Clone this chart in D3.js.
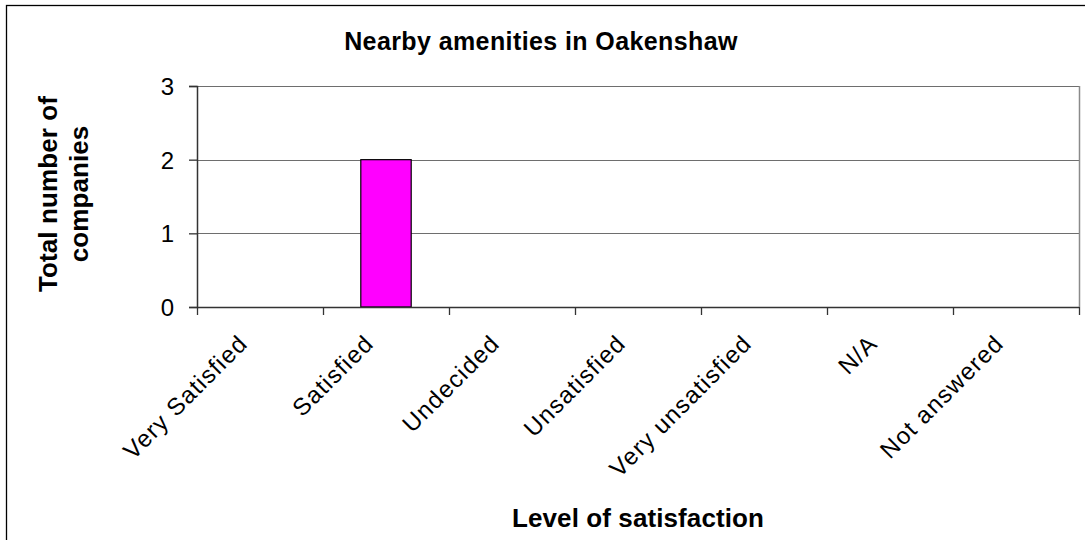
<!DOCTYPE html>
<html>
<head>
<meta charset="utf-8">
<script src="https://cdn.jsdelivr.net/npm/d3@7"></script>
<style>
  html, body { margin: 0; padding: 0; background: #fff; }
  svg { display: block; font-family: "Liberation Sans", Arial, sans-serif; }
</style>
</head>
<body>
<svg id="chart" width="1085" height="540"></svg>
<script>
const categories = ["Very Satisfied", "Satisfied", "Undecided", "Unsatisfied", "Very unsatisfied", "N/A", "Not answered"];
const values = [0, 2, 0, 0, 0, 0, 0];
const yTicks = [0, 1, 2, 3];
const chartTitle = "Nearby amenities in Oakenshaw";
const xTitle = "Level of satisfaction";
const yTitleLines = ["Total number of", "companies"];

const svg = d3.select("#chart");
const W = 1085, H = 540;
const plot = { left: 197, right: 1079, top: 86, bottom: 307 };

// outer frame (extends beyond right/bottom edges)
svg.append("rect").attr("x", 6.5).attr("y", 5.5).attr("width", W + 20).attr("height", H + 20)
  .attr("fill", "#fff").attr("stroke", "#000").attr("stroke-width", 1.3);

const x = d3.scaleBand().domain(categories).range([plot.left, plot.right]).paddingInner(0).paddingOuter(0);
const y = d3.scaleLinear().domain([0, 3]).range([plot.bottom, plot.top]);

// gridlines
svg.append("g").selectAll("line").data(yTicks.filter(d => d > 0)).join("line")
  .attr("x1", plot.left).attr("x2", plot.right)
  .attr("y1", d => Math.round(y(d)) + 0.5).attr("y2", d => Math.round(y(d)) + 0.5)
  .attr("stroke", "#6e6e6e").attr("stroke-width", 1.2);

// right border of plot
svg.append("line").attr("x1", plot.right + 0.5).attr("x2", plot.right + 0.5)
  .attr("y1", plot.top).attr("y2", plot.bottom)
  .attr("stroke", "#8a8a8a").attr("stroke-width", 1.5);

// bars
const barW = x.bandwidth() * 0.4;
svg.append("g").selectAll("rect").data(categories.map((c, i) => ({ c, v: values[i] })).filter(d => d.v > 0)).join("rect")
  .attr("x", d => x(d.c) + (x.bandwidth() - barW) / 2)
  .attr("y", d => y(d.v))
  .attr("width", barW)
  .attr("height", d => y(0) - y(d.v))
  .attr("fill", "#ff00ff").attr("stroke", "#000").attr("stroke-width", 1.2);

// y axis
const yAxis = svg.append("g").attr("transform", `translate(${plot.left},0)`)
  .call(d3.axisLeft(y).tickValues(yTicks).tickFormat(d3.format("d")).tickSize(8).tickPadding(15));
yAxis.select(".domain").attr("stroke", "#333").attr("stroke-width", 1.5);
yAxis.selectAll(".tick line").attr("stroke", "#333").attr("stroke-width", 1.3);
yAxis.selectAll(".tick text").attr("font-size", 24).attr("fill", "#000")
  .attr("font-family", "Liberation Sans, Arial, sans-serif").attr("dy", "0.36em");

// x axis with ticks at band boundaries
const xAxisG = svg.append("g");
xAxisG.append("line").attr("x1", plot.left).attr("x2", plot.right)
  .attr("y1", plot.bottom + 0.5).attr("y2", plot.bottom + 0.5)
  .attr("stroke", "#333").attr("stroke-width", 1.6);
const boundaries = categories.map(c => x(c)).concat([plot.right]);
xAxisG.selectAll("line.tk").data(boundaries).join("line").attr("class", "tk")
  .attr("x1", d => Math.round(d) + 0.5).attr("x2", d => Math.round(d) + 0.5)
  .attr("y1", plot.bottom).attr("y2", plot.bottom + 8)
  .attr("stroke", "#333").attr("stroke-width", 1.3);

// x tick labels rotated -45
xAxisG.selectAll("text").data(categories).join("text")
  .attr("transform", d => `translate(${x(d) + x.bandwidth() / 2 - 11},${plot.bottom + 38}) rotate(-45)`)
  .attr("text-anchor", "end")
  .attr("font-size", 24).attr("letter-spacing", 1.2).attr("fill", "#000")
  .text(d => d);

// title
svg.append("text").attr("x", 541).attr("y", 50).attr("text-anchor", "middle")
  .attr("font-size", 25).attr("font-weight", "bold").attr("letter-spacing", 0.4).text(chartTitle);

// x title
svg.append("text").attr("x", 638).attr("y", 527).attr("text-anchor", "middle")
  .attr("font-size", 26).attr("font-weight", "bold").attr("letter-spacing", 0.1).text(xTitle);

// y title
const yt = svg.append("text").attr("transform", "translate(57,194) rotate(-90)")
  .attr("text-anchor", "middle").attr("font-size", 26).attr("font-weight", "bold").attr("letter-spacing", 0.1);
yTitleLines.forEach((t, i) => {
  yt.append("tspan").attr("x", 0).attr("dy", i === 0 ? 0 : 31).text(t);
});
</script>
</body>
</html>
